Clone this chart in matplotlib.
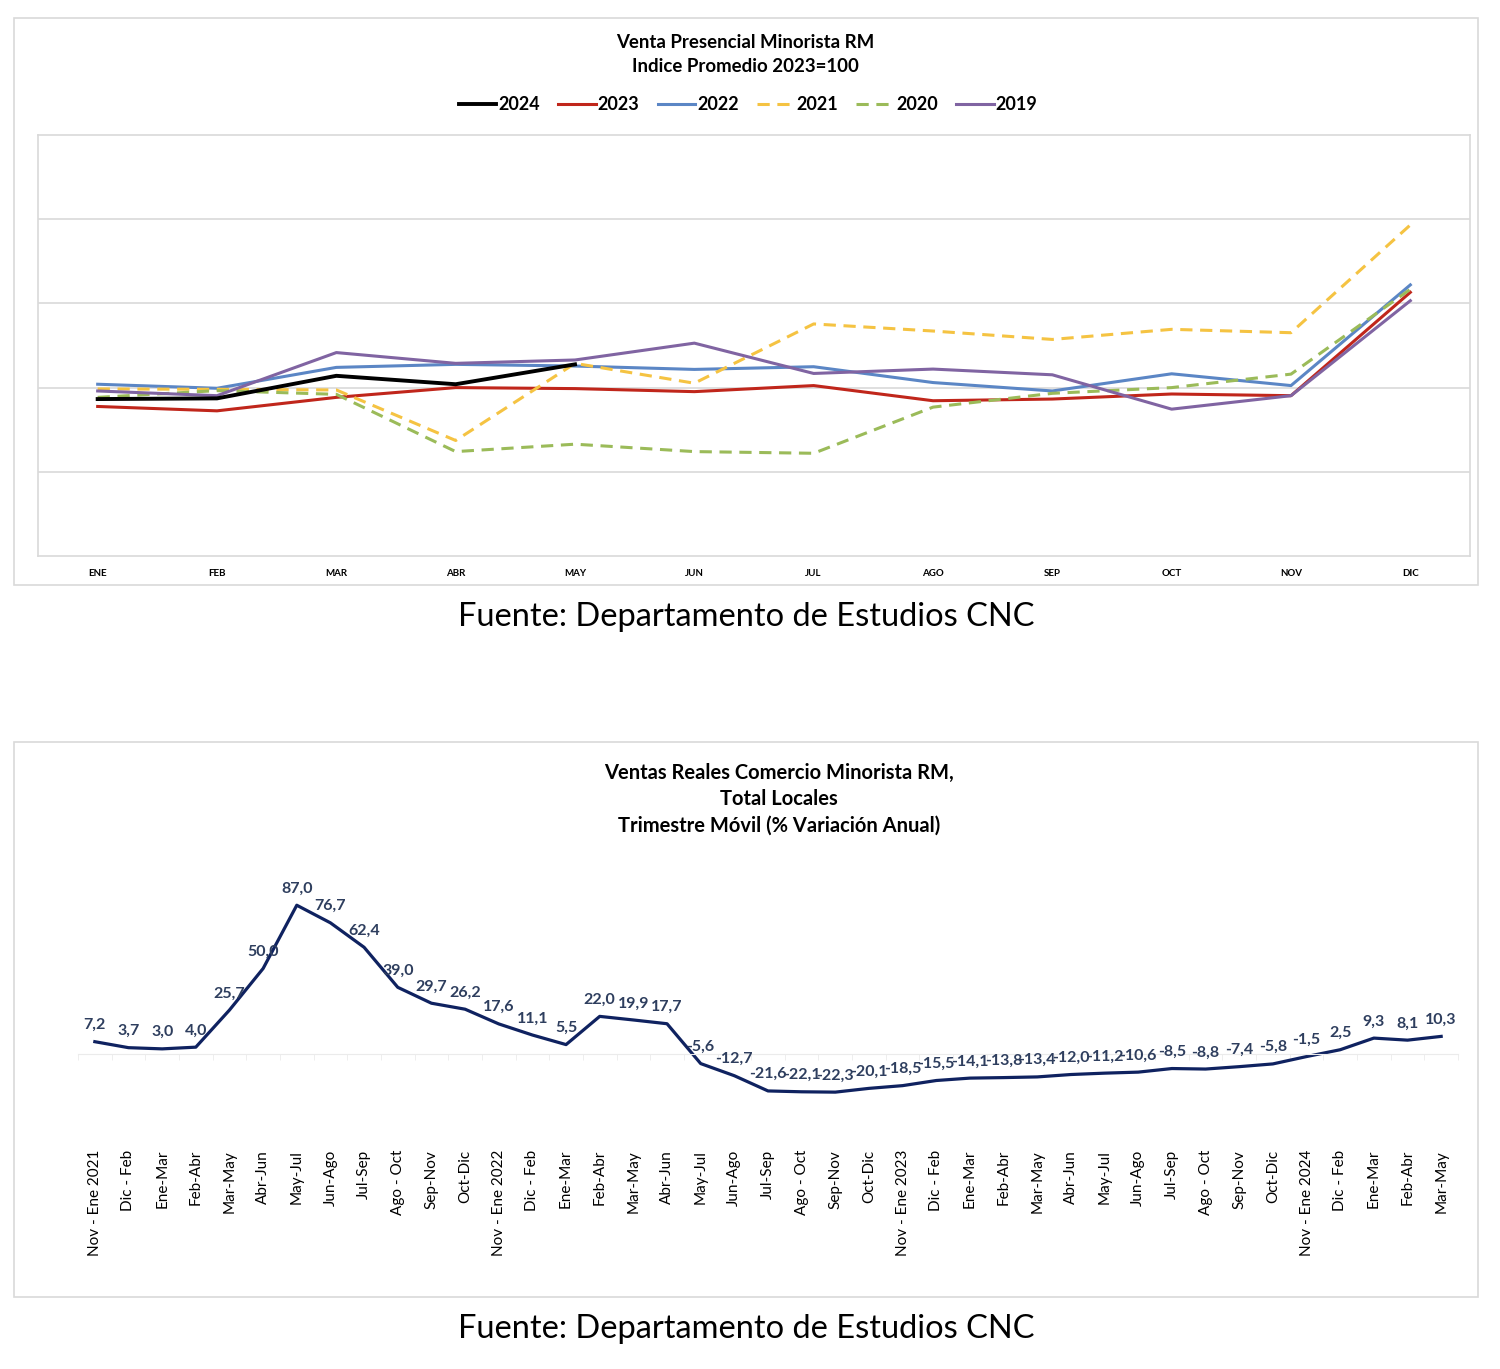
import numpy as np
import matplotlib
matplotlib.use('Agg')
import matplotlib.pyplot as plt
from matplotlib.patches import Rectangle

plt.rcParams['font.family'] = ['Lato', 'DejaVu Sans']

# Top chart data: Indice Promedio 2023=100
meses = ['ENE', 'FEB', 'MAR', 'ABR', 'MAY', 'JUN', 'JUL', 'AGO', 'SEP', 'OCT', 'NOV', 'DIC']
v2024 = [96.6, 96.8, 103.5, 101.0, 106.9]
v2023 = [94.4, 93.1, 97.1, 100.0, 99.7, 98.8, 100.6, 96.1, 96.6, 98.1, 97.6, 128.3]
v2022 = [101.0, 99.8, 106.0, 106.9, 106.4, 105.4, 106.2, 101.5, 99.0, 104.1, 100.6, 130.5]
v2021 = [99.6, 99.5, 99.3, 84.3, 107.2, 101.3, 118.9, 116.8, 114.3, 117.3, 116.3, 148.3]
v2020 = [97.1, 99.1, 98.0, 81.0, 83.2, 81.0, 80.5, 94.2, 98.3, 100.0, 104.0, 129.2]
v2019 = [99.0, 97.6, 110.4, 107.2, 108.2, 113.2, 104.2, 105.5, 103.8, 93.6, 97.6, 125.8]

# Bottom chart data: trimestre movil, % variacion anual
periodos = ['Nov - Ene 2021', 'Dic - Feb', 'Ene-Mar', 'Feb-Abr', 'Mar-May', 'Abr-Jun',
            'May-Jul', 'Jun-Ago', 'Jul-Sep', 'Ago - Oct', 'Sep-Nov', 'Oct-Dic',
            'Nov - Ene 2022', 'Dic - Feb', 'Ene-Mar', 'Feb-Abr', 'Mar-May', 'Abr-Jun',
            'May-Jul', 'Jun-Ago', 'Jul-Sep', 'Ago - Oct', 'Sep-Nov', 'Oct-Dic',
            'Nov - Ene 2023', 'Dic - Feb', 'Ene-Mar', 'Feb-Abr', 'Mar-May', 'Abr-Jun',
            'May-Jul', 'Jun-Ago', 'Jul-Sep', 'Ago - Oct', 'Sep-Nov', 'Oct-Dic',
            'Nov - Ene 2024', 'Dic - Feb', 'Ene-Mar', 'Feb-Abr', 'Mar-May']
variacion = [7.2, 3.7, 3.0, 4.0, 25.7, 50.0, 87.0, 76.7, 62.4, 39.0, 29.7, 26.2,
             17.6, 11.1, 5.5, 22.0, 19.9, 17.7, -5.6, -12.7, -21.6, -22.1, -22.3, -20.1,
             -18.5, -15.5, -14.1, -13.8, -13.4, -12.0, -11.2, -10.6, -8.5, -8.8, -7.4, -5.8,
             -1.5, 2.5, 9.3, 8.1, 10.3]

W, H = 1500, 1369
fig = plt.figure(figsize=(15, 13.69), dpi=100)


def box(x0, y0, x1, y1):
    # pixel coords (top-left origin) -> figure fraction
    return [x0 / W, 1 - y1 / H, (x1 - x0) / W, (y1 - y0) / H]


grid_c = '#D9D9D9'

# outer frames
for (x0, y0, x1, y1) in [(14, 18, 1478, 585), (14, 742, 1478, 1297)]:
    b = box(x0, y0, x1, y1)
    fig.patches.append(Rectangle((b[0], b[1]), b[2], b[3], transform=fig.transFigure,
                                 fill=False, edgecolor=grid_c, lw=1.2))

##### Top chart #####
ax1 = fig.add_axes(box(38, 135, 1470, 556))
x = np.arange(len(meses))
series = [
    ('2024', v2024, 'black', '-', 2.8),
    ('2023', v2023, '#C0261B', '-', 2.2),
    ('2022', v2022, '#5B86C5', '-', 2.2),
    ('2021', v2021, '#F5C342', (0, (4, 2.5)), 2.2),
    ('2020', v2020, '#9BBB59', (0, (4, 2.5)), 2.2),
    ('2019', v2019, '#8064A2', '-', 2.2),
]
handles = []
for name, vals, col, ls, lw in series:
    h, = ax1.plot(x[:len(vals)], vals, color=col, ls=ls, lw=lw, label=name,
                  zorder=10 if name == '2024' else 5)
    handles.append(h)
ax1.set_xlim(-0.5, 11.5)
ax1.set_ylim(50, 175)
ax1.set_yticks([75, 100, 125, 150])
ax1.yaxis.grid(True, color=grid_c, lw=1.2)
ax1.set_yticklabels([])
ax1.tick_params(axis='y', length=0)
ax1.set_xticks(x)
ax1.set_xticklabels(meses, fontsize=7, fontweight='bold')
ax1.tick_params(axis='x', length=0, pad=9)
for s in ax1.spines.values():
    s.set_color(grid_c)
    s.set_linewidth(1.2)

fig.text(745 / W, 1 - 42 / H, 'Venta Presencial Minorista RM', ha='center', va='center',
         fontsize=13.4, fontweight='bold')
fig.text(745 / W, 1 - 67 / H, 'Indice Promedio 2023=100', ha='center', va='center',
         fontsize=13.4, fontweight='bold')
fig.legend(handles=handles, loc='center', bbox_to_anchor=(748 / W, 1 - 105 / H), ncol=6,
           frameon=False, handlelength=2.1, columnspacing=1.0, handletextpad=0.1,
           prop={'size': 13, 'weight': 'bold'})

fig.text(746 / W, 1 - 617 / H, 'Fuente: Departamento de Estudios CNC', ha='center',
         va='center', fontsize=23.5)

##### Bottom chart #####
ax2 = fig.add_axes(box(78, 870, 1458, 1110))
xb = np.arange(len(periodos))
navy = '#0F2260'
ax2.plot(xb, variacion, color=navy, lw=2.3, solid_joinstyle='round')
for xi, v in zip(xb, variacion):
    ax2.annotate(('%.1f' % v).replace('.', ','), (xi, v), xytext=(0, 12),
                 textcoords='offset points', ha='center', va='center',
                 fontsize=11.5, fontweight='bold', color='#2E3E5E')
ax2.set_xlim(-0.5, len(periodos) - 0.5)
ax2.set_ylim(-(1110 - 1054) / 1.71, (1054 - 870) / 1.71)
for k in ['top', 'left', 'right']:
    ax2.spines[k].set_visible(False)
ax2.spines['bottom'].set_position(('data', 0))
ax2.spines['bottom'].set_color('#EBEBEB')
ax2.set_yticks([])
ax2.set_xticks(xb)
ax2.set_xticklabels(periodos, rotation=90, fontsize=11, va='top', ha='center')
ax2.tick_params(axis='x', which='major', length=0, pad=69)
ax2.set_xticks(np.arange(-0.5, len(periodos), 1), minor=True)
ax2.tick_params(axis='x', which='minor', length=4, color='#EBEBEB')

fig.text(779 / W, 1 - 773 / H, 'Ventas Reales Comercio Minorista RM,', ha='center',
         va='center', fontsize=14.5, fontweight='bold')
fig.text(779 / W, 1 - 799 / H, 'Total Locales', ha='center', va='center',
         fontsize=14.5, fontweight='bold')
fig.text(779 / W, 1 - 826 / H, 'Trimestre Móvil (% Variación Anual)', ha='center',
         va='center', fontsize=14.5, fontweight='bold')

fig.text(746 / W, 1 - 1329 / H, 'Fuente: Departamento de Estudios CNC', ha='center',
         va='center', fontsize=23.5)

plt.savefig('out.png', dpi=100)
